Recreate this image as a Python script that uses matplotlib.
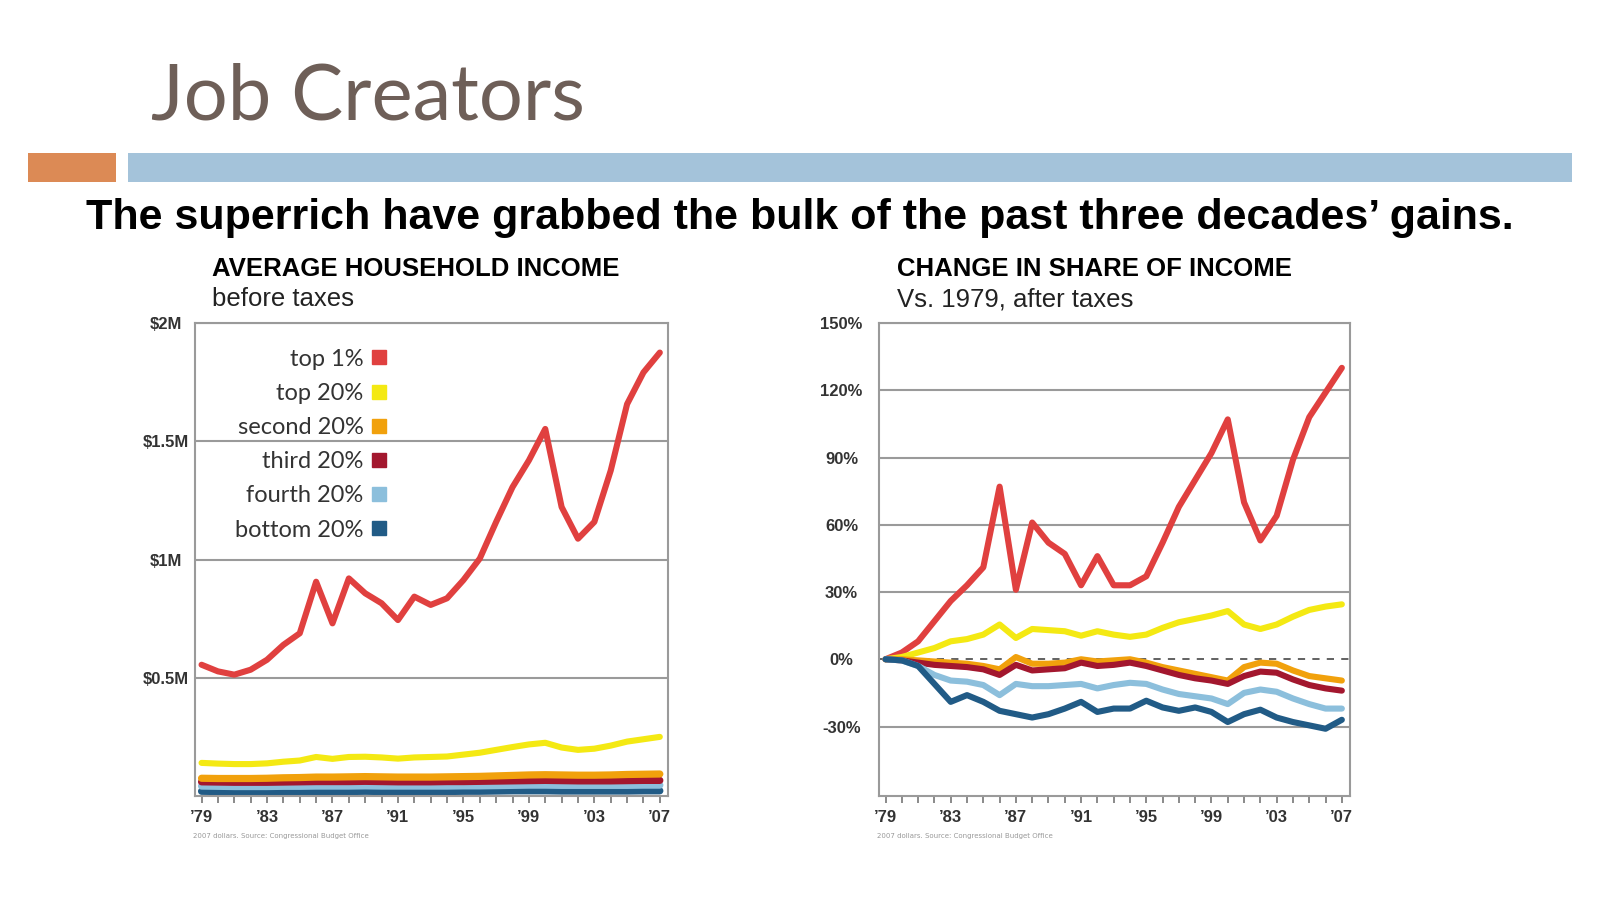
import matplotlib
matplotlib.use('Agg')
import matplotlib.pyplot as plt
from matplotlib.lines import Line2D
from matplotlib.patches import Rectangle
from matplotlib import font_manager

# data
years = list(range(1979, 2008))
groups = ['top 1%', 'top 20%', 'second 20%', 'third 20%', 'fourth 20%', 'bottom 20%']
colors = ['#e0403f', '#f4e913', '#f1a10c', '#a3172e', '#8cbfdc', '#215b86']

# average household income before taxes, $M
inc_top1 = [0.555, 0.527, 0.513, 0.534, 0.576, 0.639, 0.688, 0.906, 0.730, 0.920, 0.857,
            0.815, 0.744, 0.843, 0.808, 0.836, 0.913, 1.004, 1.159, 1.306, 1.419, 1.552,
            1.222, 1.088, 1.159, 1.376, 1.657, 1.791, 1.875]
inc_top20 = [0.140, 0.137, 0.135, 0.135, 0.138, 0.145, 0.150, 0.165, 0.157, 0.165, 0.166,
             0.163, 0.158, 0.163, 0.165, 0.167, 0.175, 0.183, 0.195, 0.207, 0.218, 0.225,
             0.205, 0.195, 0.200, 0.213, 0.230, 0.240, 0.250]
inc_second = [0.075, 0.074, 0.074, 0.074, 0.075, 0.077, 0.078, 0.080, 0.080, 0.081, 0.082,
              0.081, 0.080, 0.080, 0.080, 0.081, 0.082, 0.083, 0.085, 0.087, 0.089, 0.090,
              0.089, 0.088, 0.088, 0.089, 0.091, 0.092, 0.093]
inc_third = [0.060, 0.059, 0.058, 0.058, 0.058, 0.059, 0.060, 0.061, 0.061, 0.061, 0.062,
             0.061, 0.060, 0.060, 0.060, 0.061, 0.061, 0.062, 0.063, 0.064, 0.065, 0.066,
             0.065, 0.064, 0.064, 0.064, 0.065, 0.066, 0.066]
inc_fourth = [0.042, 0.041, 0.040, 0.040, 0.040, 0.041, 0.041, 0.042, 0.042, 0.042, 0.043,
              0.042, 0.042, 0.042, 0.042, 0.042, 0.043, 0.043, 0.044, 0.045, 0.046, 0.046,
              0.045, 0.045, 0.045, 0.045, 0.045, 0.046, 0.046]
inc_bottom = [0.020, 0.019, 0.018, 0.018, 0.018, 0.018, 0.019, 0.019, 0.019, 0.019, 0.020,
              0.019, 0.019, 0.019, 0.019, 0.019, 0.020, 0.020, 0.021, 0.022, 0.022, 0.022,
              0.021, 0.021, 0.021, 0.021, 0.021, 0.022, 0.022]

# change in share of income vs 1979, after taxes, %
chg_top1 = [0, 3, 8, 17, 26, 33, 41, 77, 31, 61, 52, 47, 33, 46, 33, 33, 37, 52, 68, 80,
            92, 107, 70, 53, 64, 89, 108, 119, 130]
chg_top20 = [0, 1, 3, 5, 8, 9, 11, 15.5, 9.5, 13.5, 13, 12.5, 10.5, 12.5, 11, 10, 11, 14,
             16.5, 18, 19.5, 21.5, 15.5, 13.5, 15.5, 19, 22, 23.5, 24.5]
chg_second = [0, 0, -0.5, -1, -1.5, -2, -3, -4.5, 1, -2, -2, -1.5, 0, -1, -0.5, 0, -1.5,
              -3.5, -5, -6.5, -8, -9.5, -3.5, -1.5, -2, -5, -7.5, -8.5, -9.5]
chg_third = [0, -0.5, -1.5, -2.5, -3, -3.5, -4.5, -7, -2.5, -5, -4.5, -4, -1.5, -3, -2.5,
             -1.5, -3, -5, -7, -8.5, -9.5, -11, -7.5, -5.5, -6, -9, -11.5, -13, -14]
chg_fourth = [0, -0.5, -3, -7, -9.5, -10, -11.5, -16, -11, -12, -12, -11.5, -11, -13, -11.5,
              -10.5, -11, -13.5, -15.5, -16.5, -17.5, -20, -15, -13.5, -14.5, -17.5, -20, -22, -22]
chg_bottom = [0, -0.5, -3, -11, -19, -16, -19, -23, -24.5, -26, -24.5, -22, -19, -23.5, -22,
              -22, -18.5, -21.5, -23, -21.5, -23.5, -28, -24.5, -22.5, -26, -28, -29.5, -31, -27]

income = [inc_top1, inc_top20, inc_second, inc_third, inc_fourth, inc_bottom]
change = [chg_top1, chg_top20, chg_second, chg_third, chg_fourth, chg_bottom]

year_ticks = [1979, 1983, 1987, 1991, 1995, 1999, 2003, 2007]
year_labels = ['’79', '’83', '’87', '’91', '’95', '’99', '’03', '’07']
inc_ticks = [0.5, 1.0, 1.5, 2.0]
inc_labels = ['$0.5M', '$1M', '$1.5M', '$2M']
chg_ticks = [-30, 0, 30, 60, 90, 120, 150]
chg_labels = ['-30%', '0%', '30%', '60%', '90%', '120%', '150%']

names = {f.name for f in font_manager.fontManager.ttflist}
narrow = 'Liberation Sans Narrow' if 'Liberation Sans Narrow' in names else 'Liberation Sans'

W, H = 1600, 900
fig = plt.figure(figsize=(16, 9), dpi=100)
fig.patch.set_facecolor('white')

# slide header
fig.text(151 / W, 1 - 120 / H, 'Job Creators', fontsize=56, family='Lato',
         color='#6e5f58', ha='left', va='baseline')
fig.add_artist(Rectangle((28 / W, 1 - 182 / H), 88 / W, 29 / H,
                         transform=fig.transFigure, color='#dc8a55', lw=0))
fig.add_artist(Rectangle((128 / W, 1 - 182 / H), 1444 / W, 29 / H,
                         transform=fig.transFigure, color='#a4c3da', lw=0))
fig.text(0.5, 1 - 229 / H, 'The superrich have grabbed the bulk of the past three decades’ gains.',
         fontsize=31, family='Liberation Sans', weight='bold', color='black',
         ha='center', va='baseline')


def style_axes(ax):
    for s in ax.spines.values():
        s.set_color('#9a9a9a')
        s.set_linewidth(1.5)
    ax.set_xlim(1978.6, 2007.5)
    ax.set_xticks(year_ticks)
    ax.set_xticks(years, minor=True)
    ax.set_xticklabels(year_labels, fontsize=12, family='Liberation Sans',
                       weight='bold', color='#333333')
    ax.tick_params(axis='x', which='both', direction='out', length=5, width=1.4,
                   color='#8a8a8a', pad=5)
    ax.tick_params(axis='y', length=0)
    ax.grid(True, axis='y', color='#9a9a9a', lw=1.5)
    ax.set_axisbelow(True)


# left: average household income
ax1 = fig.add_axes([195 / W, 1 - 796 / H, 473 / W, 473 / H])
for vals, c in zip(reversed(income), reversed(colors)):
    lw = 4.4 if max(vals) > 0.2 else 5.2
    ax1.plot(years, vals, color=c, lw=lw, solid_joinstyle='round', solid_capstyle='round')
style_axes(ax1)
ax1.set_ylim(0, 2.0)
ax1.set_yticks(inc_ticks)
ax1.set_yticklabels(inc_labels, fontsize=12, family='Liberation Sans', weight='bold',
                    color='#333333', ha='center')
ax1.tick_params(axis='y', pad=21)

handles = [Line2D([], [], marker='s', ls='none', markersize=10, color=c) for c in colors]
ax1.legend(handles, groups, loc='upper right', bbox_to_anchor=(0.406, 0.946),
           markerfirst=False, frameon=False, handlelength=0.65, handletextpad=0.35,
           labelspacing=0.56, borderpad=0, borderaxespad=0,
           prop={'family': 'Lato', 'size': 17}, labelcolor='#333333')

fig.text(212 / W, 1 - 276 / H, 'AVERAGE HOUSEHOLD INCOME', fontsize=18.5, family=narrow,
         weight='bold', ha='left', va='baseline')
fig.text(212 / W, 1 - 306 / H, 'before taxes', fontsize=18.5, family=narrow,
         ha='left', va='baseline', color='#222222')
fig.text(193 / W, 1 - 838 / H, '2007 dollars. Source: Congressional Budget Office',
         fontsize=5, color='#999999', ha='left', va='baseline')

# right: change in share of income
ax2 = fig.add_axes([879 / W, 1 - 796 / H, 471 / W, 473 / H])
for vals, c in zip(change, colors):
    ax2.plot(years, vals, color=c, lw=4.4, solid_joinstyle='round',
             solid_capstyle='round', zorder=3)
style_axes(ax2)
ax2.set_ylim(-61, 150)
ax2.set_yticks(chg_ticks)
ax2.set_yticklabels(chg_labels, fontsize=12, family='Liberation Sans', weight='bold',
                    color='#333333', ha='center')
ax2.tick_params(axis='y', pad=27)
for t, gl in zip(chg_ticks, ax2.get_ygridlines()):
    if t == 0:
        gl.set_linestyle((0, (4, 4)))
        gl.set_color('#555555')
        gl.set_linewidth(1.3)

fig.text(897 / W, 1 - 276 / H, 'CHANGE IN SHARE OF INCOME', fontsize=18.5, family=narrow,
         weight='bold', ha='left', va='baseline')
fig.text(897 / W, 1 - 306 / H, 'Vs. 1979, after taxes', fontsize=18.5, family=narrow,
         ha='left', va='baseline', color='#222222')
fig.text(877 / W, 1 - 838 / H, '2007 dollars. Source: Congressional Budget Office',
         fontsize=5, color='#999999', ha='left', va='baseline')

fig.savefig('out.png', dpi=100, facecolor=fig.get_facecolor())
